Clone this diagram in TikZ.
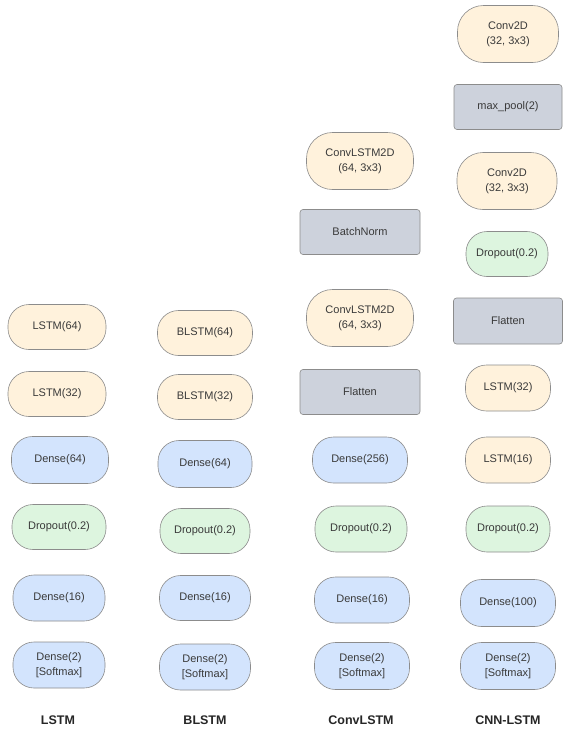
\documentclass[tikz,border=0pt]{standalone}
\usepackage{fontspec}
\setmainfont{Liberation Sans}
\definecolor{yel}{HTML}{FFF2DC}
\definecolor{blu}{HTML}{D3E4FD}
\definecolor{grn}{HTML}{DDF5DF}
\definecolor{gry}{HTML}{CDD2DC}
\definecolor{edge}{HTML}{8C8C8C}
\definecolor{txt}{HTML}{3A3A3A}
\tikzset{
  layer/.style={draw=edge, line width=0.6pt, text=txt, inner sep=0pt, align=center,
    font=\fontsize{11}{15}\selectfont, minimum height=45pt},
  pill/.style={layer, rounded corners=21pt},
  tallpill/.style={layer, rounded corners=26pt, minimum height=57pt},
  ylw/.style={pill, fill=yel},
  ylwtall/.style={tallpill, fill=yel},
  blue/.style={pill, fill=blu},
  green/.style={pill, fill=grn},
  box/.style={layer, rounded corners=3pt, fill=gry},
  title/.style={font=\fontsize{12.5}{15}\selectfont\bfseries, text=black!85}
}
\begin{document}
\begin{tikzpicture}[x=1pt,y=-1pt]
\useasboundingbox[fill=white] (0,0) rectangle (563,732);
% LSTM
\node[ylw, minimum width=98pt] (l1) at (57,327) {LSTM(64)};
\node[ylw, minimum width=98pt] (l2) at (57,394) {LSTM(32)};
\node[blue, minimum width=97pt, minimum height=47pt] (l3) at (60,460) {Dense(64)};
\node[green, minimum width=94pt] (l4) at (59,527) {Dropout(0.2)};
\node[blue, minimum width=92pt, minimum height=46pt] (l5) at (59,598) {Dense(16)};
\node[blue, minimum width=92pt, minimum height=46pt] (l6) at (59,665) {Dense(2)\\{}[Softmax]};
\node[title] (t1) at (58,720) {LSTM};
% BLSTM
\node[ylw, minimum width=95pt] (b1) at (205,333) {BLSTM(64)};
\node[ylw, minimum width=95pt] (b2) at (205,397) {BLSTM(32)};
\node[blue, minimum width=94pt, minimum height=47pt] (b3) at (205,464) {Dense(64)};
\node[green, minimum width=90pt] (b4) at (205,531) {Dropout(0.2)};
\node[blue, minimum width=91pt, minimum height=45pt] (b5) at (205,598) {Dense(16)};
\node[blue, minimum width=91pt, minimum height=46pt] (b6) at (205,667) {Dense(2)\\{}[Softmax]};
\node[title] (t2) at (205,720) {BLSTM};
% ConvLSTM
\node[ylwtall, minimum width=107pt] (c1) at (360,161) {ConvLSTM2D\\(64, 3x3)};
\node[box, minimum width=120pt] (c2) at (360,232) {BatchNorm};
\node[ylwtall, minimum width=107pt] (c3) at (360,318) {ConvLSTM2D\\(64, 3x3)};
\node[box, minimum width=120pt] (c4) at (360,392) {Flatten};
\node[blue, minimum width=95pt, minimum height=46pt] (c5) at (360,460) {Dense(256)};
\node[green, minimum width=92pt, minimum height=46pt] (c6) at (361,529) {Dropout(0.2)};
\node[blue, minimum width=95pt, minimum height=46pt] (c7) at (362,600) {Dense(16)};
\node[blue, minimum width=95pt, minimum height=47pt] (c8) at (362,666) {Dense(2)\\{}[Softmax]};
\node[title] (t3) at (361,720) {ConvLSTM};
% CNN-LSTM
\node[ylwtall, minimum width=101pt] (n1) at (508,34) {Conv2D\\(32, 3x3)};
\node[box, minimum width=108pt] (n2) at (508,107) {max\_pool(2)};
\node[ylwtall, minimum width=100pt] (n3) at (507,181) {Conv2D\\(32, 3x3)};
\node[green, minimum width=82pt] (n4) at (507,254) {Dropout(0.2)};
\node[box, minimum width=109pt, minimum height=46pt] (n5) at (508,321) {Flatten};
\node[ylw, minimum width=85pt, minimum height=46pt] (n6) at (508,388) {LSTM(32)};
\node[ylw, minimum width=85pt, minimum height=46pt] (n7) at (508,460) {LSTM(16)};
\node[green, minimum width=84pt, minimum height=46pt] (n8) at (508,529) {Dropout(0.2)};
\node[blue, minimum width=95pt, minimum height=47pt] (n9) at (508,603) {Dense(100)};
\node[blue, minimum width=95pt, minimum height=47pt] (n10) at (508,666) {Dense(2)\\{}[Softmax]};
\node[title] (t4) at (508,720) {CNN-LSTM};
\end{tikzpicture}
\end{document}
